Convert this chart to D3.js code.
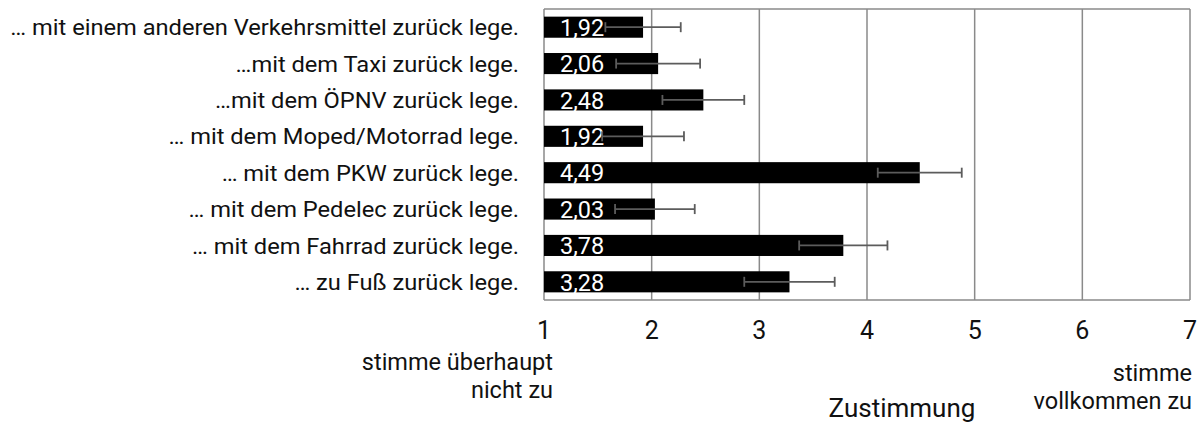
<!DOCTYPE html>
<html lang="de">
<head>
  <meta charset="UTF-8">
  <title>Zustimmung</title>
  <script src="https://d3js.org/d3.v7.min.js"></script>
  <style>
    body { margin: 0; background: #fff; }
    text { font-family: Roboto, "Noto Sans", sans-serif; font-weight: 400; }
  </style>
</head>
<body>
  <div id="chart"></div>

  <script>
    // Daten (von oben nach unten)
    const kategorien = [
      "… mit einem anderen Verkehrsmittel zurück lege.",
      "…mit dem Taxi zurück lege.",
      "…mit dem ÖPNV zurück lege.",
      "… mit dem Moped/Motorrad lege.",
      "… mit dem PKW zurück lege.",
      "… mit dem Pedelec zurück lege.",
      "… mit dem Fahrrad zurück lege.",
      "… zu Fuß zurück lege."
    ];
    const mittelwerte = [1.92, 2.06, 2.48, 1.92, 4.49, 2.03, 3.78, 3.28];
    const fehler = [0.35, 0.39, 0.38, 0.38, 0.39, 0.37, 0.41, 0.42];
    const ticks = [1, 2, 3, 4, 5, 6, 7];

    const W = 1203, H = 422;
    const pl = 544, pr = 1190, pt = 9, pb = 300;

    const svg = d3.select("#chart").append("svg")
      .attr("width", W)
      .attr("height", H);

    const x = d3.scaleLinear().domain([1, 7]).range([pl, pr]);
    const y = d3.scaleBand()
      .domain(kategorien)
      .range([pt, pb])
      .paddingInner(0.42)
      .paddingOuter(0.21);

    const data = kategorien.map((k, i) => ({ k, v: mittelwerte[i], e: fehler[i] }));
    const fmt = d => d3.format(".2f")(d).replace(".", ",");

    // Gitterlinien
    svg.append("g")
      .selectAll("line")
      .data(ticks)
      .join("line")
      .attr("x1", d => x(d)).attr("x2", d => x(d))
      .attr("y1", pt).attr("y2", pb)
      .attr("stroke", "#8a8a8a")
      .attr("stroke-width", 1.5);

    svg.append("line")
      .attr("x1", pl).attr("x2", pr)
      .attr("y1", pt).attr("y2", pt)
      .attr("stroke", "#8a8a8a").attr("stroke-width", 1.5);
    svg.append("line")
      .attr("x1", pl).attr("x2", pr)
      .attr("y1", pb).attr("y2", pb)
      .attr("stroke", "#8a8a8a").attr("stroke-width", 1.5);

    // Balken
    svg.append("g")
      .selectAll("rect")
      .data(data)
      .join("rect")
      .attr("x", x(1))
      .attr("y", d => y(d.k))
      .attr("width", d => x(d.v) - x(1))
      .attr("height", y.bandwidth())
      .attr("fill", "#000");

    // Werte
    svg.append("g")
      .selectAll("text")
      .data(data)
      .join("text")
      .attr("x", x(1) + 16)
      .attr("y", d => y(d.k) + y.bandwidth() / 2)
      .attr("dy", "0.37em")
      .attr("fill", "#fff")
      .style("font-size", "23.5px")
      .text(d => fmt(d.v));

    // Fehlerbalken
    const eb = svg.append("g")
      .attr("stroke", "#5c5c5c")
      .attr("stroke-width", 1.8)
      .selectAll("g")
      .data(data)
      .join("g");
    eb.append("line")
      .attr("x1", d => x(d.v - d.e)).attr("x2", d => x(d.v + d.e))
      .attr("y1", d => y(d.k) + y.bandwidth() / 2)
      .attr("y2", d => y(d.k) + y.bandwidth() / 2);
    eb.selectAll("line.cap")
      .data(d => [[d.v - d.e, d.k], [d.v + d.e, d.k]])
      .join("line")
      .attr("class", "cap")
      .attr("x1", d => x(d[0])).attr("x2", d => x(d[0]))
      .attr("y1", d => y(d[1]) + y.bandwidth() / 2 - 5)
      .attr("y2", d => y(d[1]) + y.bandwidth() / 2 + 5);

    // Kategorien (schmal)
    const lab = svg.append("g")
      .selectAll("text")
      .data(kategorien)
      .join("text")
      .attr("text-anchor", "end")
      .attr("dy", "0.36em")
      .style("font-size", "22.5px")
      .attr("fill", "#111")
      .text(d => d);
    const maxW = d3.max(lab.nodes(), n => n.getComputedTextLength());
    const sx = 509 / maxW;
    lab.attr("transform", d => `translate(519,${y(d) + y.bandwidth() / 2}) scale(${sx},1)`);

    // Achsenbeschriftung
    svg.append("g")
      .selectAll("text")
      .data(ticks)
      .join("text")
      .attr("x", d => x(d))
      .attr("y", 339)
      .attr("text-anchor", "middle")
      .style("font-size", "25px")
      .attr("fill", "#111")
      .text(d => d);

    const note = (lines, xx, y0) => {
      svg.append("text")
        .attr("text-anchor", "end")
        .style("font-size", "23.5px")
        .attr("fill", "#111")
        .selectAll("tspan")
        .data(lines)
        .join("tspan")
        .attr("x", xx)
        .attr("y", (d, i) => y0 + i * 27.5)
        .text(d => d);
    };
    note(["stimme überhaupt", "nicht zu"], 553, 370);
    note(["stimme", "vollkommen zu"], 1192, 381);

    svg.append("text")
      .attr("x", 902)
      .attr("y", 417)
      .attr("text-anchor", "middle")
      .style("font-size", "26px")
      .attr("fill", "#111")
      .text("Zustimmung");
  </script>
</body>
</html>
